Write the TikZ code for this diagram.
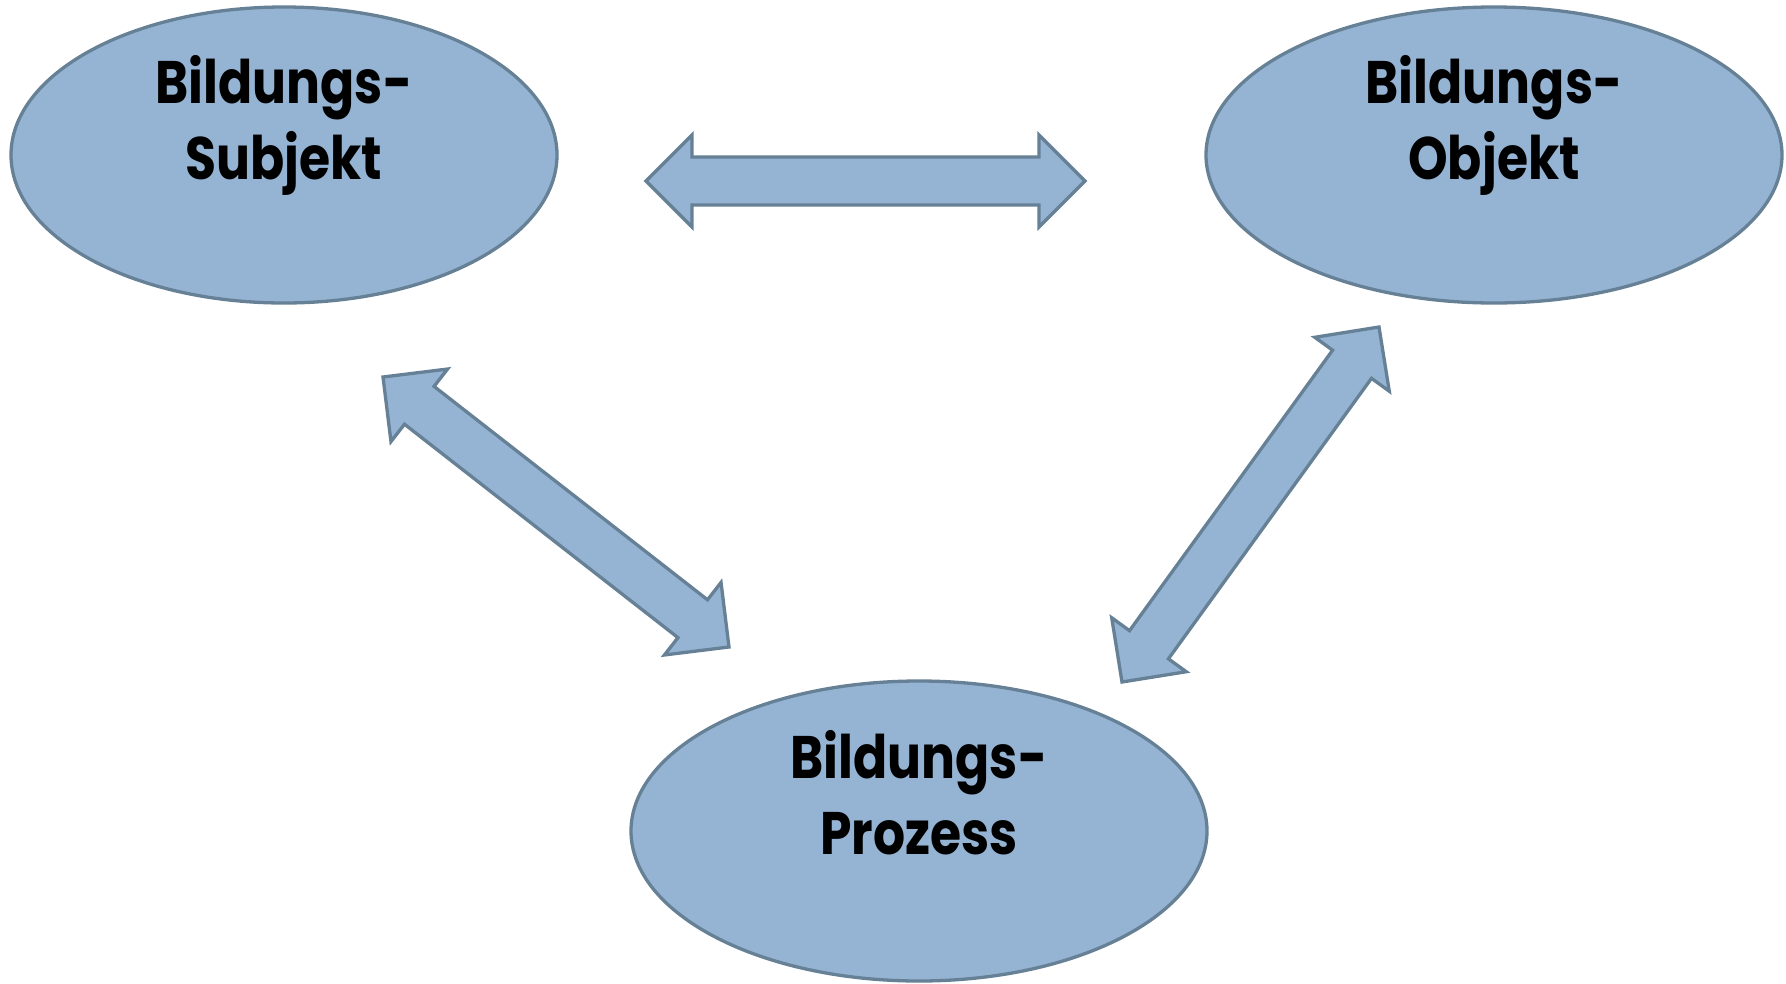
\documentclass[tikz,border=0pt]{standalone}
\usepackage{fontspec}
\setmainfont{Poppins}[BoldFont={* Bold}, BoldFeatures={FakeStretch=0.84}]
\usetikzlibrary{calc,shapes.geometric}

\definecolor{blobfill}{RGB}{149,179,211}
\definecolor{blobline}{RGB}{102,128,150}

% block arrow between two tip coordinates
\newcommand\blockarrow[2]{%
  \draw[barrow] (#1)
    -- ($(#1)!\headlen!(#2)!\headhw!90:(#2)$)
    -- ($(#1)!\headlen!(#2)!\shafthw!90:(#2)$)
    -- ($(#2)!\headlen!(#1)!\shafthw!-90:(#1)$)
    -- ($(#2)!\headlen!(#1)!\headhw!-90:(#1)$)
    -- (#2)
    -- ($(#2)!\headlen!(#1)!\headhw!90:(#1)$)
    -- ($(#2)!\headlen!(#1)!\shafthw!90:(#1)$)
    -- ($(#1)!\headlen!(#2)!\shafthw!-90:(#2)$)
    -- ($(#1)!\headlen!(#2)!\headhw!-90:(#2)$)
    -- cycle;}
\newcommand\headlen{46pt}
\newcommand\headhw{46pt}
\newcommand\shafthw{24pt}

\begin{document}
\begin{tikzpicture}[x=1pt,y=-1pt,
  blob/.style={ellipse, draw=blobline, fill=blobfill, line width=3.3pt, inner sep=0pt},
  lbl/.style={align=center, anchor=base, inner sep=0pt,
    font=\fontsize{60}{76}\selectfont\bfseries},
  barrow/.style={draw=blobline, fill=blobfill, line width=3.3pt, line join=miter}]
  \useasboundingbox (0,0) rectangle (1786,983);

  % the three ellipses
  \node[blob, minimum width=546pt, minimum height=296pt] (subj) at (284,155) {};
  \node[blob, minimum width=576pt, minimum height=296pt] (obj) at (1494,155) {};
  \node[blob, minimum width=576pt, minimum height=300pt] (proz) at (919,831) {};

  % their labels (base anchor sits on the last line)
  \node[lbl] (subjT) at ([yshift=-24pt]subj.center) {Bildungs-\\Subjekt};
  \node[lbl] (objT) at ([yshift=-24pt]obj.center) {Bildungs-\\Objekt};
  \node[lbl] (prozT) at ([yshift=-23pt]proz.center) {Bildungs-\\Prozess};

  % arrow tips
  \coordinate (h1) at (646,181);
  \coordinate (h2) at (1085,181);
  \coordinate (l1) at (383,377);
  \coordinate (l2) at (729,647);
  \coordinate (r1) at (1379,327);
  \coordinate (r2) at (1122,682);

  \blockarrow{h1}{h2}
  \blockarrow{l1}{l2}
  \blockarrow{r1}{r2}
\end{tikzpicture}
\end{document}
